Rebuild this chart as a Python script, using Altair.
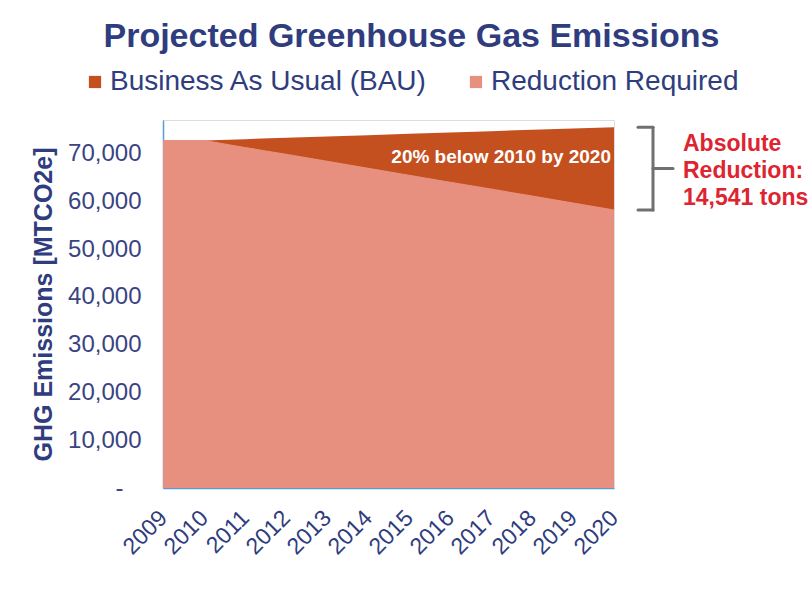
import altair as alt
import pandas as pd

years = [2009, 2010, 2011, 2012, 2013, 2014, 2015, 2016, 2017, 2018, 2019, 2020]
bau = [72700, 72705, 72990, 73270, 73550, 73830, 74110, 74390, 74670, 74950, 75230, 75500]
target = [72700, 72705, 71251, 69797, 68343, 66889, 65435, 63981, 62527, 61073, 59619, 58164]
series_names = ["Business As Usual (BAU)", "Reduction Required"]
series_colors = ["#c4501f", "#e8907f"]
y_ticks = [0, 10000, 20000, 30000, 40000, 50000, 60000, 70000]
note_text = "20% below 2010 by 2020"
side_text = ["Absolute", "Reduction:", "14,541 tons"]

FONT = "Liberation Sans"
NAVY = "#2f3d7e"
AXIS_BLUE = "#5b9bd5"

df = pd.DataFrame(
    {"year": years * 2,
     "value": bau + target,
     "series": [series_names[0]] * len(years) + [series_names[1]] * len(years)}
)

color = alt.Color(
    "series:N",
    scale=alt.Scale(domain=series_names, range=series_colors),
    legend=alt.Legend(
        title=None, orient="none", direction="horizontal",
        legendX=-82, legendY=-52,
        symbolType="square", symbolSize=150, symbolStrokeWidth=0,
        labelFont=FONT, labelFontSize=28, labelColor=NAVY,
        labelOffset=1, columnPadding=34, labelLimit=500,
    ),
)

x = alt.X(
    "year:Q",
    scale=alt.Scale(domain=[2009, 2020], nice=False, zero=False),
    axis=alt.Axis(
        title=None, values=years, format="d", labelAngle=315,
        labelAlign="right", labelBaseline="middle", labelPadding=26,
        labelFont=FONT, labelFontSize=23, labelColor=NAVY,
        ticks=False, grid=False, domainColor=AXIS_BLUE, domainWidth=1.5,
        labelOverlap=False,
    ),
)
y = alt.Y(
    "value:Q", stack=None,
    scale=alt.Scale(domain=[0, 77000], nice=False),
    axis=alt.Axis(
        title="GHG Emissions [MTCO2e]", values=y_ticks,
        labelExpr="datum.value == 0 ? '-' : format(datum.value, ',')",
        labelFont=FONT, labelFontSize=24, labelColor="#3a4482",
        labelPadding={"condition": {"test": "datum.value === 0", "value": 40}, "value": 22},
        titleFont=FONT, titleFontSize=25, titleFontWeight="bold", titleColor=NAVY,
        titlePadding=11,
        ticks=False, grid=False, domainColor=AXIS_BLUE, domainWidth=1.5,
    ),
)

bau_layer = alt.Chart(df).transform_filter(
    alt.datum.series == series_names[0]
).mark_area(opacity=1).encode(x=x, y=y, color=color)

target_layer = alt.Chart(df).transform_filter(
    alt.datum.series == series_names[1]
).mark_area(opacity=1, line={"color": "#fbe6df", "strokeWidth": 1.2}).encode(x=x, y=y, color=color)

note_df = pd.DataFrame({"year": [2020], "value": [69200], "label": [note_text]})
note = alt.Chart(note_df).mark_text(
    align="right", baseline="middle", dx=-3, font=FONT, fontSize=19,
    fontWeight="bold", color="white"
).encode(x=alt.X("year:Q"), y=alt.Y("value:Q"), text="label:N")

top_v = bau[-1]
bot_v = target[-1]
mid_v = (top_v + bot_v) / 2
br_df = pd.DataFrame({
    "y1": [top_v, bot_v, top_v, mid_v],
    "y2": [top_v, bot_v, bot_v, mid_v],
    "x1": [475, 475, 490, 490],
    "x2": [490, 490, 490, 510],
})
GRAY = "#707070"
bracket = alt.Chart(br_df).mark_rule(color=GRAY, strokeWidth=3, strokeCap="round").encode(
    x=alt.X("x1:Q", scale=None), x2="x2:Q", y=alt.Y("y1:Q"), y2="y2:Q"
)

side_df = pd.DataFrame({"value": [mid_v], "label": ["\n".join(side_text)]})
side = alt.Chart(side_df).mark_text(
    align="left", baseline="middle", font=FONT, fontSize=23, fontWeight="bold",
    color="#dd2430", lineBreak="\n", lineHeight=27, dy=-25
).encode(x=alt.value(520), y=alt.Y("value:Q"), text="label:N")

chart = alt.layer(bau_layer, target_layer, note, bracket, side).properties(
    width=451, height=368,
    title=alt.TitleParams(
        "Projected Greenhouse Gas Emissions", font=FONT, fontSize=34,
        fontWeight="bold", color=NAVY, anchor="middle", dx=23, offset=14,
    ),
    autosize=alt.AutoSizeParams(type="none"),
    padding={"left": 163, "top": 120, "right": 198, "bottom": 102},
).configure_view(stroke=None).configure(background="white")

chart.save("out.html", embed_options={"renderer": "svg", "actions": False})
